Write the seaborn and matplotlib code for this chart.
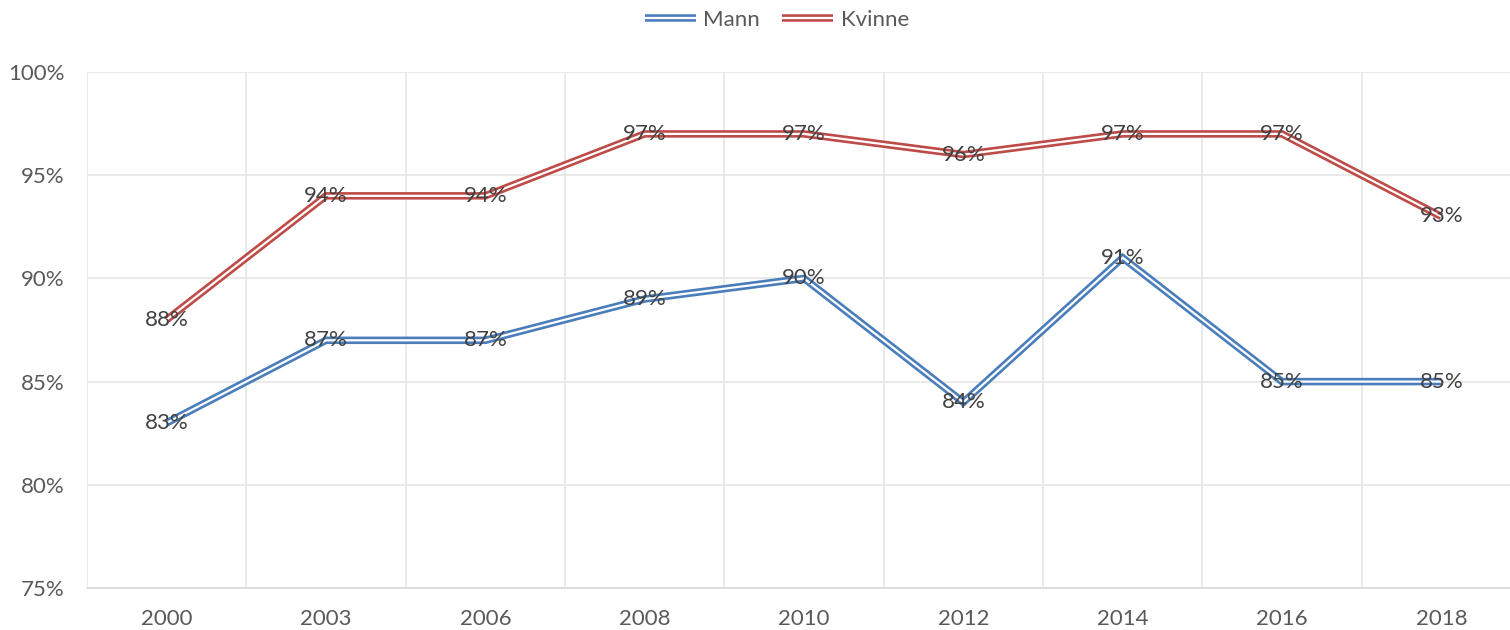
import pandas as pd
import matplotlib
matplotlib.use("Agg")
import matplotlib.pyplot as plt
import matplotlib.patheffects as pe
from matplotlib.ticker import FixedLocator, FuncFormatter
import seaborn as sns

# data
years = ["2000", "2003", "2006", "2008", "2010", "2012", "2014", "2016", "2018"]
mann = [83, 87, 87, 89, 90, 84, 91, 85, 85]
kvinne = [88, 94, 94, 97, 97, 96, 97, 97, 93]
series = ["Mann", "Kvinne"]
colors = {"Mann": "#4A7EBB", "Kvinne": "#BE4B48"}

df = pd.DataFrame({
    "year": years * 2,
    "value": mann + kvinne,
    "series": ["Mann"] * len(years) + ["Kvinne"] * len(years),
})

sns.set_style("white")
plt.rcParams["font.family"] = ["Lato", "DejaVu Sans"]

OUTER, INNER = 5.4, 1.6

fig = plt.figure(figsize=(15.1, 6.3), dpi=100)
ax = fig.add_axes([87 / 1510, 1 - 588 / 630, 1 - 87 / 1510, (588 - 72) / 630])

sns.lineplot(data=df, x="year", y="value", hue="series", hue_order=series,
             palette=colors, sort=False, linewidth=OUTER, legend=False, ax=ax)

for line, name in zip(ax.get_lines(), series):
    line.set_path_effects([pe.Stroke(linewidth=OUTER, foreground=colors[name]),
                           pe.Stroke(linewidth=INNER, foreground="white")])
    line.set_solid_capstyle("butt")
    line.set_solid_joinstyle("miter")

for vals in (mann, kvinne):
    for i, v in enumerate(vals):
        ax.text(i, v, f"{v}%", ha="center", va="center", fontsize=16,
                color="#404040", zorder=5)

ax.set_ylim(75, 100)
ax.set_xlim(-0.5, 8.5 - 11 / 159.4)
ax.set_yticks(range(75, 101, 5))
ax.yaxis.set_major_formatter(FuncFormatter(lambda v, p: f"{int(v)}%"))
ax.xaxis.set_minor_locator(FixedLocator([i - 0.5 for i in range(len(years) + 1)]))
ax.grid(axis="y", which="major", color="#E6E6E6", linewidth=1.2)
ax.grid(axis="x", which="minor", color="#E6E6E6", linewidth=1.2)
ax.grid(axis="x", which="major", visible=False)
ax.set_axisbelow(True)
for s in ["top", "right", "left"]:
    ax.spines[s].set_visible(False)
ax.spines["bottom"].set_color("#D9D9D9")
ax.spines["bottom"].set_linewidth(1.2)
ax.tick_params(axis="both", which="both", length=0, labelsize=16, colors="#595959")
ax.tick_params(axis="y", pad=16)
ax.tick_params(axis="x", pad=15)
ax.set_xlabel("")
ax.set_ylabel("")

handles = []
for name in series:
    h, = ax.plot([], [], color=colors[name], linewidth=OUTER, label=name,
                 solid_capstyle="butt")
    h.set_path_effects([pe.Stroke(linewidth=OUTER, foreground=colors[name]),
                        pe.Stroke(linewidth=INNER, foreground="white")])
    handles.append(h)
leg = fig.legend(handles=handles, labels=series, loc="center", ncol=2,
                 bbox_to_anchor=(777 / 1510, 1 - 20 / 630), frameon=False,
                 fontsize=16, handlelength=2.3, columnspacing=1.0,
                 handletextpad=0.35)
for t in leg.get_texts():
    t.set_color("#595959")
for h in leg.get_lines():
    h.set_solid_capstyle("butt")

fig.savefig("out.png", dpi=100)
